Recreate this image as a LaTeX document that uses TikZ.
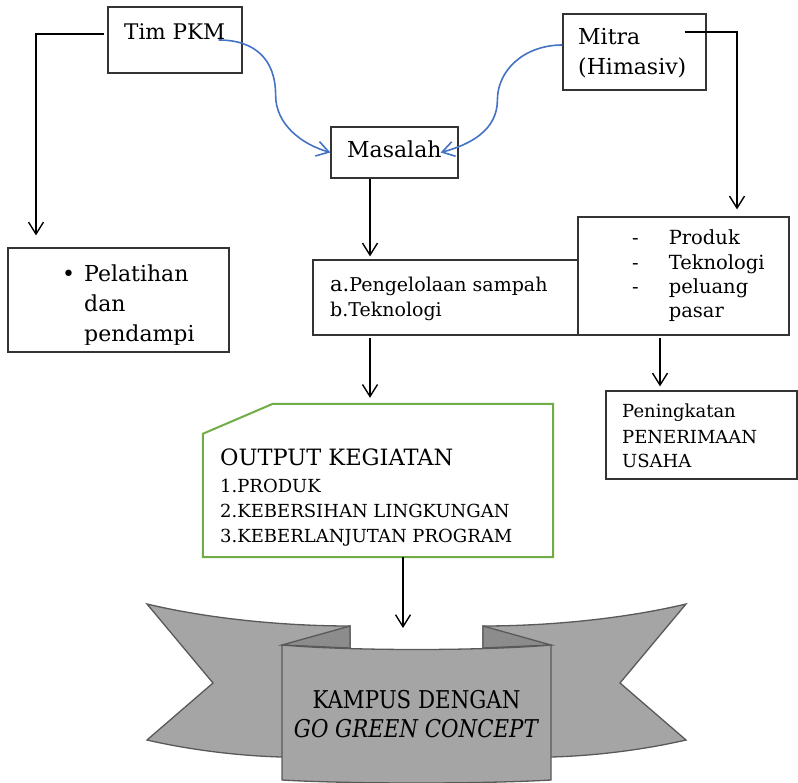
\documentclass[tikz,border=0pt]{standalone}
\usepackage{fontspec}
\setmainfont{DejaVu Serif}
\newfontfamily\bannerfont[FakeStretch=0.87]{DejaVu Serif}
\usetikzlibrary{arrows.meta}
\definecolor{curveblue}{HTML}{4472C4}
\definecolor{boxgreen}{HTML}{70AD47}
\definecolor{ribfill}{HTML}{A5A5A5}
\definecolor{ribfold}{HTML}{8C8C8C}
\definecolor{ribline}{HTML}{595959}
\begin{document}
\begin{tikzpicture}[x=1pt,y=-1pt,
	box/.style={draw=black!80,line width=1.2pt,inner sep=0pt},
	txt/.style={inner sep=0pt,anchor=base west,font=\fontsize{22}{30}\selectfont},
	conn/.style={line width=1.4pt,-{Straight Barb[length=12pt,width=15pt]}},
	bluecurve/.style={draw=curveblue,line width=1.6pt,-{Straight Barb[length=12pt,width=15pt]}},
	rib/.style={draw=ribline,line width=1.3pt,fill=ribfill}]
	\useasboundingbox (0,0) rectangle (798,783);
	% boxes
	\node[box,minimum width=134pt,minimum height=66pt] (tim) at (175,40) {};
	\node[box,minimum width=127pt,minimum height=51pt] (masalah) at (394.5,152.5) {};
	\node[box,minimum width=143pt,minimum height=76pt] (mitra) at (634.5,52) {};
	\node[box,minimum width=221pt,minimum height=104pt] (pel) at (118.5,300) {};
	\node[box,minimum width=265pt,minimum height=75pt] (mid) at (445.5,297.5) {};
	\node[box,minimum width=211pt,minimum height=118pt] (list) at (683.5,276) {};
	\node[box,minimum width=191pt,minimum height=88pt] (pen) at (701.5,435) {};
	\node[inner sep=0pt,minimum width=350pt,minimum height=153pt] (outp) at (378,480.5) {};
	\draw[draw=boxgreen,line width=2pt] ([yshift=-30pt]outp.north west) -- ([xshift=70pt]outp.north west)
		-- (outp.north east) -- (outp.south east) -- (outp.south west) -- cycle;
	% ribbon
	\coordinate (ribtop) at (416.5,645);
	\foreach \s/\o in {1/0,-1/833}{
		\begin{scope}[xshift=\o pt,xscale=\s]
			\draw[rib] (147,604) .. controls (210,619) and (285,626) .. (350,626) -- (350,762) -- (282,757)
				.. controls (240,756) and (190,750) .. (147,740) -- (213,683) -- cycle;
			\draw[rib,fill=ribfold] (350,626) -- (282,645) -- (350,648) -- cycle;
		\end{scope}
	}
	\draw[rib] (282,645) .. controls (350,651) and (483,651) .. (551,645) -- (551,780)
		.. controls (483,784) and (350,784) .. (282,780) -- cycle;
	% texts
	\node[txt,font=\fontsize{21.5}{30}\selectfont] at (124,40) {Tim PKM};
	\node[txt] at (347,158) {Masalah};
	\node[txt] at (578,45) {\begin{tabular}[t]{@{}l@{}}Mitra\\(Himasiv)\end{tabular}};
	\begin{scope}
		\clip (pel.north west) rectangle ([yshift=8pt]pel.south east);
		\node[txt] at (62,282) {\begin{tabular}[t]{@{}l@{\hspace{9pt}}l@{}}\textbullet&Pelatihan\\&dan\\&pendampi\end{tabular}};
	\end{scope}
	\node[txt,font=\fontsize{19}{25}\selectfont] at (330,292)
		{\begin{tabular}[t]{@{}l@{}}{\fontsize{21}{25}\selectfont a.}Pengelolaan sampah\\b.Teknologi\end{tabular}};
	\node[txt,font=\fontsize{19.5}{24.3}\selectfont] at (632,245)
		{\begin{tabular}[t]{@{}l@{\hspace{30pt}}l@{}}-&Produk\\-&Teknologi\\-&peluang\\&pasar\end{tabular}};
	\node[txt,font=\fontsize{18}{25}\selectfont] at (622,418)
		{\begin{tabular}[t]{@{}l@{}}Peningkatan\\PENERIMAAN\\USAHA\end{tabular}};
	\node[txt,font=\fontsize{18}{25}\selectfont] at (220,465)
		{\begin{tabular}[t]{@{}l@{}}{\fontsize{22.5}{25}\selectfont OUTPUT KEGIATAN}\\[2pt]1.PRODUK\\2.KEBERSIHAN LINGKUNGAN\\3.KEBERLANJUTAN PROGRAM\end{tabular}};
	\node[txt,anchor=base,font=\bannerfont\fontsize{24.5}{29}\selectfont] at (416.5,708)
		{\begin{tabular}[t]{@{}c@{}}KAMPUS DENGAN\\\textit{GO GREEN CONCEPT}\end{tabular}};
	% connectors
	\draw[conn] ([xshift=-3pt,yshift=6pt]tim.west) -| ([xshift=-82.5pt,yshift=12pt]pel.north);
	\draw[conn] ([xshift=-22pt,yshift=20pt]mitra.east) -| ([xshift=53.5pt,yshift=7pt]list.north);
	\draw[conn,shorten >=3pt] ([xshift=-24.5pt]masalah.south) -- ([xshift=-24.5pt]masalah.south |- mid.north);
	\draw[conn,shorten <=2pt,shorten >=6pt] ([xshift=-75.5pt]mid.south) -- ([xshift=-75.5pt]mid.south |- outp.north);
	\draw[conn,shorten <=2pt,shorten >=4pt] ([xshift=-23.5pt]list.south) -- ([xshift=-23.5pt]list.south |- pen.north);
	\draw[conn,shorten >=17pt] ([xshift=25pt]outp.south) -- ([xshift=25pt]outp.south |- ribtop);
	\draw[bluecurve] ([xshift=-24pt]tim.east) .. controls +(37,0) and +(0,-35) .. ++(57,55)
		.. controls +(0,30) and +(-28,-8) .. (masalah.west);
	\draw[bluecurve] ([yshift=7pt]mitra.west) .. controls +(-38,0) and +(0,-30) .. ++(-65,55)
		.. controls +(0,30) and +(30,-8) .. ([xshift=-18pt]masalah.east);
\end{tikzpicture}
\end{document}
